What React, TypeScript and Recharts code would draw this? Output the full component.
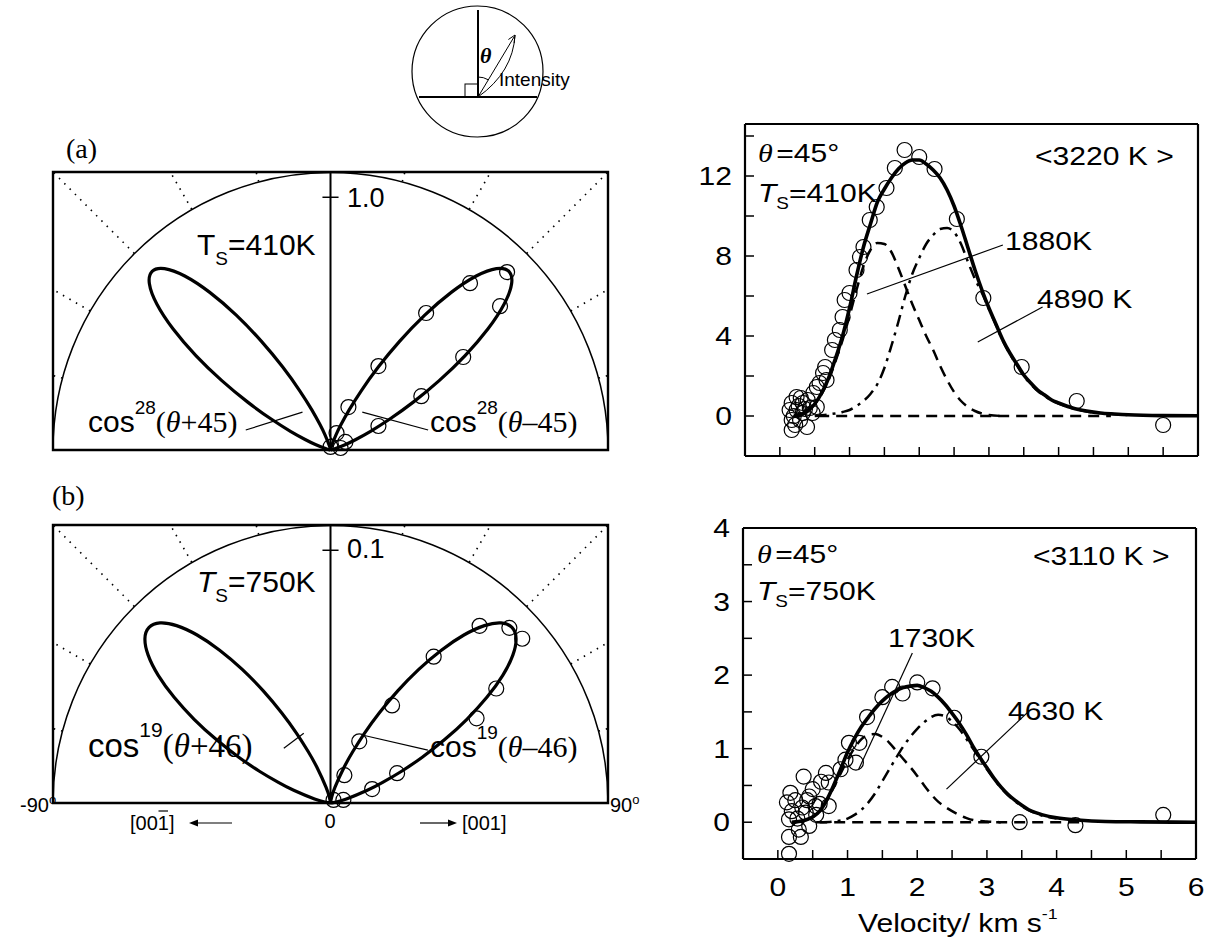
import React from "react";
import {
  ComposedChart,
  Line,
  Scatter,
  XAxis,
  YAxis,
  ReferenceLine,
  ReferenceArea,
  ReferenceDot,
} from "recharts";

const SANS = "'Liberation Sans', Arial, sans-serif";
const SERIF = "'Liberation Serif', 'Times New Roman', serif";
// lettering of the velocity plots is drawn a little wide in the original
const SX = 1.18;

type Pair = [number, number];
const pts = (a: Pair[]) => a.map(([x, y]) => ({ x, y }));

// ---------- polar panels (x = r sin(theta), y = r cos(theta)) ----------

// (a) Ts = 410 K, scale tick at 1.0
const lobeALeft: Pair[] = [
  [0, 0], [-0.0007, 0.0037], [-0.0046, 0.0172], [-0.0218, 0.0599], [-0.0417, 0.1006],
  [-0.074, 0.1588], [-0.1225, 0.2353], [-0.1894, 0.3281], [-0.2745, 0.4308], [-0.3736, 0.5336],
  [-0.4786, 0.6237], [-0.5777, 0.6885], [-0.6578, 0.7179], [-0.7071, 0.7071], [-0.7179, 0.6578],
  [-0.6885, 0.5777], [-0.6237, 0.4786], [-0.5336, 0.3736], [-0.4308, 0.2745], [-0.3281, 0.1894],
  [-0.2353, 0.1225], [-0.1588, 0.074], [-0.1006, 0.0417], [-0.0599, 0.0218], [-0.0172, 0.0046],
  [-0.0037, 0.0007], [0, 0],
];
const lobeARight: Pair[] = [
  [0, 0], [0.0007, 0.0037], [0.0046, 0.0172], [0.0218, 0.0599], [0.0417, 0.1006],
  [0.074, 0.1588], [0.1225, 0.2353], [0.1894, 0.3281], [0.2745, 0.4308], [0.3736, 0.5336],
  [0.4786, 0.6237], [0.5777, 0.6885], [0.6578, 0.7179], [0.7071, 0.7071], [0.7179, 0.6578],
  [0.6885, 0.5777], [0.6237, 0.4786], [0.5336, 0.3736], [0.4308, 0.2745], [0.3281, 0.1894],
  [0.2353, 0.1225], [0.1588, 0.074], [0.1006, 0.0417], [0.0599, 0.0218], [0.0172, 0.0046],
  [0.0037, 0.0007], [0, 0],
];
const pointsA: Pair[] = [
  [0.7, 0.704], [0.553, 0.66], [0.672, 0.569], [0.379, 0.542], [0.526, 0.368], [0.19, 0.332],
  [0.36, 0.213], [0.071, 0.17], [0.19, 0.095], [0.024, 0.067], [0.059, 0.032], [0.0, 0.012],
  [0.04, 0.008],
];

// (b) Ts = 750 K, scale tick at 0.1
const lobeBLeft: Pair[] = [
  [0, 0], [-0.00007, 0.00063], [-0.00044, 0.00224], [-0.00179, 0.00625], [-0.00553, 0.01441],
  [-0.00886, 0.02038], [-0.01344, 0.02757], [-0.01939, 0.03571], [-0.02665, 0.04436],
  [-0.03499, 0.05287], [-0.04394, 0.06048], [-0.05288, 0.06647], [-0.06102, 0.07019],
  [-0.06761, 0.07124], [-0.07193, 0.06947], [-0.07356, 0.06507], [-0.07228, 0.05853],
  [-0.06828, 0.05052], [-0.06198, 0.04181], [-0.05406, 0.03313], [-0.04526, 0.02509],
  [-0.03637, 0.01813], [-0.02802, 0.01247], [-0.02067, 0.00814], [-0.01459, 0.00502],
  [-0.00631, 0.00157], [-0.00225, 0.00036], [-0.00063, 0.00004], [0, 0],
];
const lobeBRight: Pair[] = [
  [0, 0], [0.00007, 0.00063], [0.00044, 0.00224], [0.00179, 0.00625], [0.00553, 0.01441],
  [0.00886, 0.02038], [0.01344, 0.02757], [0.01939, 0.03571], [0.02665, 0.04436],
  [0.03499, 0.05287], [0.04394, 0.06048], [0.05288, 0.06647], [0.06102, 0.07019],
  [0.06761, 0.07124], [0.07193, 0.06947], [0.07356, 0.06507], [0.07228, 0.05853],
  [0.06828, 0.05052], [0.06198, 0.04181], [0.05406, 0.03313], [0.04526, 0.02509],
  [0.03637, 0.01813], [0.02802, 0.01247], [0.02067, 0.00814], [0.01459, 0.00502],
  [0.00631, 0.00157], [0.00225, 0.00036], [0.00063, 0.00004], [0, 0],
];
const pointsB: Pair[] = [
  [0.0591, 0.0701], [0.0709, 0.0693], [0.076, 0.065], [0.0409, 0.0579], [0.0657, 0.0453],
  [0.0244, 0.0386], [0.0579, 0.0335], [0.0114, 0.0244], [0.0264, 0.0118], [0.0165, 0.0055],
  [0.0055, 0.011], [0.0012, 0.0012], [0.0051, 0.0012],
];

// ---------- velocity distributions ----------

const X_TICKS = [0, 0.5, 1, 1.5, 2, 2.5, 3, 3.5, 4, 4.5, 5, 5.5, 6];

// top: theta = 45, Ts = 410 K, <3220 K>
const topTotal: Pair[] = [
  [0.2, 0], [0.3, 0.05], [0.4, 0.25], [0.5, 0.6], [0.6, 1.15], [0.7, 1.9], [0.8, 2.9],
  [0.9, 4.0], [1.0, 5.4], [1.1, 7.0], [1.2, 8.45], [1.3, 9.6], [1.4, 10.7], [1.5, 11.35],
  [1.6, 11.9], [1.7, 12.35], [1.8, 12.65], [1.9, 12.8], [2.0, 12.8], [2.1, 12.6], [2.2, 12.3],
  [2.3, 11.9], [2.4, 11.3], [2.5, 10.5], [2.6, 9.5], [2.7, 8.4], [2.8, 7.3], [2.9, 6.3],
  [3.0, 5.4], [3.1, 4.6], [3.2, 3.8], [3.3, 3.15], [3.4, 2.6], [3.5, 2.05], [3.6, 1.65],
  [3.7, 1.3], [3.8, 1.05], [3.9, 0.8], [4.0, 0.65], [4.2, 0.4], [4.4, 0.25], [4.6, 0.15],
  [4.8, 0.1], [5.0, 0.06], [5.5, 0.02], [6.0, 0.01],
];
const topSlow: Pair[] = [
  [0.2, 0], [0.3, 0.05], [0.4, 0.25], [0.5, 0.6], [0.6, 1.1], [0.7, 1.8], [0.8, 2.75],
  [0.9, 3.8], [1.0, 5.0], [1.1, 6.3], [1.2, 7.5], [1.3, 8.3], [1.4, 8.65], [1.5, 8.6],
  [1.6, 8.2], [1.7, 7.4], [1.8, 6.5], [1.9, 5.6], [2.0, 4.8], [2.1, 4.0], [2.2, 3.3],
  [2.3, 2.5], [2.4, 1.8], [2.5, 1.2], [2.6, 0.75], [2.7, 0.45], [2.8, 0.25], [2.9, 0.12],
  [3.0, 0.05], [3.2, 0],
];
const topFast: Pair[] = [
  [0.5, 0], [0.7, 0.08], [0.9, 0.2], [1.0, 0.3], [1.1, 0.5], [1.2, 0.75], [1.3, 1.1],
  [1.4, 1.6], [1.5, 2.4], [1.6, 3.5], [1.7, 4.7], [1.8, 6.0], [1.9, 7.1], [2.0, 7.9],
  [2.1, 8.6], [2.2, 9.05], [2.3, 9.35], [2.4, 9.4], [2.5, 9.2], [2.6, 8.6], [2.7, 7.7],
  [2.8, 6.85], [2.9, 6.15], [3.0, 5.35], [3.1, 4.55], [3.2, 3.75], [3.3, 3.1], [3.4, 2.55],
  [3.5, 2.0], [3.6, 1.6], [3.7, 1.25], [3.8, 1.0], [3.9, 0.78], [4.0, 0.62], [4.2, 0.38],
  [4.4, 0.23], [4.6, 0.14], [4.8, 0.09], [5.0, 0.05],
];
const topBase: Pair[] = [[0.55, 0], [4.75, 0]];
const topPoints: Pair[] = [
  [0.14, 0.3], [0.17, 0.65], [0.17, -0.2], [0.17, -0.7], [0.2, 0.0], [0.22, -0.45], [0.24, 0.95],
  [0.24, 0.3], [0.27, 0.5], [0.29, -0.2], [0.3, 0.9], [0.33, 0.65], [0.33, 0.15], [0.36, 0.35],
  [0.39, -0.55], [0.4, 0.8], [0.43, 0.4], [0.47, 0.15], [0.48, 1.15], [0.53, 0.45], [0.53, 1.45],
  [0.57, 1.65], [0.62, 2.15], [0.65, 2.45], [0.67, 1.8], [0.75, 3.3], [0.79, 3.8], [0.86, 4.3],
  [0.9, 4.95], [0.93, 5.8], [1.0, 6.15], [1.1, 7.3], [1.15, 7.95], [1.2, 8.45], [1.29, 9.8],
  [1.39, 10.45], [1.53, 11.4], [1.65, 12.4], [1.79, 13.3], [2.0, 12.95], [2.22, 12.35],
  [2.54, 9.85], [2.92, 5.9], [3.47, 2.45], [4.26, 0.75], [5.5, -0.45],
];
const topLeaders: Pair[][] = [
  [[1.25, 6.1], [3.2, 8.55]],
  [[2.84, 3.7], [3.77, 5.45]],
];

// bottom: theta = 45, Ts = 750 K, <3110 K>
const botTotal: Pair[] = [
  [0.2, 0], [0.3, 0.01], [0.4, 0.03], [0.5, 0.07], [0.6, 0.15], [0.7, 0.3], [0.8, 0.5],
  [0.9, 0.72], [1.0, 0.95], [1.1, 1.14], [1.2, 1.3], [1.3, 1.43], [1.4, 1.55], [1.5, 1.65],
  [1.6, 1.73], [1.7, 1.79], [1.8, 1.83], [1.9, 1.85], [2.0, 1.86], [2.1, 1.83], [2.2, 1.78],
  [2.3, 1.7], [2.4, 1.6], [2.5, 1.48], [2.6, 1.35], [2.7, 1.2], [2.8, 1.03], [2.9, 0.88],
  [3.0, 0.74], [3.1, 0.6], [3.2, 0.48], [3.3, 0.38], [3.4, 0.3], [3.5, 0.23], [3.6, 0.17],
  [3.7, 0.13], [3.8, 0.1], [4.0, 0.06], [4.3, 0.03], [4.7, 0.01], [5.2, 0.005], [6.0, 0],
];
const botSlow: Pair[] = [
  [0.2, 0], [0.3, 0.01], [0.4, 0.03], [0.5, 0.07], [0.6, 0.15], [0.7, 0.29], [0.8, 0.47],
  [0.9, 0.66], [1.0, 0.85], [1.1, 1.01], [1.2, 1.13], [1.3, 1.19], [1.4, 1.2], [1.5, 1.16],
  [1.6, 1.08], [1.7, 0.97], [1.8, 0.86], [1.9, 0.75], [2.0, 0.63], [2.1, 0.5], [2.2, 0.38],
  [2.3, 0.28], [2.4, 0.21], [2.5, 0.15], [2.6, 0.1], [2.7, 0.06], [2.8, 0.03], [3.0, 0.01],
  [3.2, 0],
];
const botFast: Pair[] = [
  [0.6, 0], [0.8, 0.01], [1.0, 0.05], [1.1, 0.1], [1.2, 0.17], [1.3, 0.27], [1.4, 0.4],
  [1.5, 0.56], [1.6, 0.72], [1.7, 0.88], [1.8, 1.03], [1.9, 1.16], [2.0, 1.27], [2.1, 1.36],
  [2.2, 1.43], [2.3, 1.46], [2.4, 1.44], [2.5, 1.37], [2.6, 1.27], [2.7, 1.14], [2.8, 1.0],
  [2.9, 0.86], [3.0, 0.72], [3.1, 0.59], [3.2, 0.47], [3.3, 0.37], [3.4, 0.29], [3.5, 0.22],
  [3.7, 0.12], [4.0, 0.05],
];
const botBase: Pair[] = [[0.55, 0], [4.4, 0]];
const botPoints: Pair[] = [
  [0.16, -0.43], [0.16, -0.2], [0.16, 0.04], [0.13, 0.27], [0.18, 0.4], [0.2, 0.15], [0.25, 0.3],
  [0.28, 0.05], [0.3, -0.1], [0.33, -0.2], [0.35, 0.2], [0.37, 0.62], [0.4, 0.13], [0.42, 0.3],
  [0.45, 0.35], [0.45, -0.05], [0.5, 0.45], [0.54, 0.22], [0.55, 0.1], [0.6, 0.25], [0.62, 0.55],
  [0.69, 0.67], [0.73, 0.54], [0.73, 0.22], [0.9, 0.72], [0.97, 0.85], [1.02, 1.08], [1.12, 0.81],
  [1.17, 1.08], [1.28, 1.43], [1.5, 1.7], [1.64, 1.84], [1.79, 1.75], [2.0, 1.9], [2.22, 1.82],
  [2.53, 1.42], [2.92, 0.89], [3.47, 0.0], [4.27, -0.04], [5.53, 0.1],
];
const botLeaders: Pair[][] = [
  [[1.16, 0.72], [1.93, 2.3]],
  [[2.42, 0.45], [3.58, 1.49]],
];

// ---------- shared bits ----------

const AXIS = { stroke: "#000", strokeWidth: 2.2 };
const TICK = { stroke: "#000", strokeWidth: 1.5 };
const NoTick = () => <g />;

const Ring = (p: any) => (
  <circle cx={p.cx} cy={p.cy} r={7.5} fill="none" stroke="#000" strokeWidth={1.2} />
);

const xTick = (show: boolean) => (p: any) => {
  const v = p.payload?.value;
  if (!show || !Number.isInteger(v)) return <g />;
  return (
    <text
      transform={`translate(${p.x},${p.y}) scale(${SX},1)`}
      textAnchor="middle"
      dy="0.71em"
      fontSize={25.5}
      fontFamily={SANS}
      fill="#000"
    >
      {v}
    </text>
  );
};

const yTick = (labelled: (v: number) => boolean) => (p: any) => {
  const v = p.payload?.value;
  if (!labelled(v)) return <g />;
  return (
    <text
      transform={`translate(${p.x},${p.y}) scale(${SX},1)`}
      textAnchor="end"
      dy="0.355em"
      fontSize={25.5}
      fontFamily={SANS}
      fill="#000"
    >
      {v}
    </text>
  );
};

const SPOKES = [15, 30, 45, 60, 75];

function PolarPanel({
  rMax,
  tickAt,
  lobeLeft,
  lobeRight,
  points,
  leaders,
}: {
  rMax: number;
  tickAt: number;
  lobeLeft: Pair[];
  lobeRight: Pair[];
  points: Pair[];
  leaders: Pair[][];
}) {
  const W = 555;
  const H = 278;
  const rPx = W / 2;
  // dotted angle marks, only drawn between the rim and the frame
  const spokes: { x: number; y: number }[][] = [];
  for (const side of [-1, 1]) {
    for (const deg of SPOKES) {
      const a = (deg * Math.PI) / 180;
      const s = Math.sin(a);
      const c = Math.cos(a);
      const far = rMax * Math.min(1 / s, 1 / c);
      spokes.push([
        { x: side * rMax * s, y: rMax * c },
        { x: side * far * s, y: far * c },
      ]);
    }
  }
  const half = rMax * 0.029;
  return (
    <ComposedChart width={W + 40} height={H + 40} margin={{ top: 20, right: 20, bottom: 20, left: 20 }}>
      <XAxis type="number" dataKey="x" domain={[-rMax, rMax]} hide />
      <YAxis type="number" dataKey="y" domain={[0, rMax]} hide />
      {spokes.map((seg, i) => (
        <ReferenceLine
          key={i}
          segment={seg}
          stroke="#000"
          strokeWidth={1.6}
          strokeDasharray="1.5 6"
          ifOverflow="visible"
        />
      ))}
      <ReferenceDot
        x={0}
        y={0}
        r={1}
        ifOverflow="visible"
        shape={(p: any) => (
          <path
            d={`M${p.cx - rPx},${p.cy} A${rPx},${rPx} 0 0 1 ${p.cx + rPx},${p.cy}`}
            fill="none"
            stroke="#000"
            strokeWidth={1.5}
          />
        )}
      />
      <ReferenceArea
        x1={-rMax}
        x2={rMax}
        y1={0}
        y2={rMax}
        fill="none"
        fillOpacity={0}
        stroke="#000"
        strokeWidth={2.4}
        ifOverflow="visible"
      />
      <ReferenceLine
        segment={[{ x: 0, y: 0 }, { x: 0, y: rMax }]}
        stroke="#000"
        strokeWidth={2}
        ifOverflow="visible"
      />
      <ReferenceLine
        segment={[{ x: -half, y: tickAt }, { x: half, y: tickAt }]}
        stroke="#000"
        strokeWidth={1.5}
        ifOverflow="visible"
      />
      {leaders.map((l, i) => (
        <ReferenceLine
          key={`l${i}`}
          segment={l.map(([x, y]) => ({ x, y }))}
          stroke="#000"
          strokeWidth={1.2}
          ifOverflow="visible"
        />
      ))}
      <Scatter data={pts(points)} shape={Ring} isAnimationActive={false} />
      <Line
        data={pts(lobeLeft)}
        dataKey="y"
        type="natural"
        stroke="#000"
        strokeWidth={3.2}
        dot={false}
        isAnimationActive={false}
      />
      <Line
        data={pts(lobeRight)}
        dataKey="y"
        type="natural"
        stroke="#000"
        strokeWidth={3.2}
        dot={false}
        isAnimationActive={false}
      />
    </ComposedChart>
  );
}

function VelocityPanel({
  height,
  topPad,
  bottomH,
  yDomain,
  yTicks,
  yLabelled,
  showX,
  total,
  slow,
  fast,
  base,
  points,
  leaders,
}: {
  height: number;
  topPad: number;
  bottomH: number;
  yDomain: [number, number];
  yTicks: number[];
  yLabelled: (v: number) => boolean;
  showX: boolean;
  total: Pair[];
  slow: Pair[];
  fast: Pair[];
  base: Pair[];
  points: Pair[];
  leaders: Pair[][];
}) {
  const ids = { xAxisId: "b", yAxisId: "l" };
  // frame axes need a size of at least 1px, or Recharts skips drawing them
  return (
    <ComposedChart
      width={523}
      height={height}
      margin={{ top: topPad, right: 9, bottom: bottomH > 1 ? 0 : 9, left: 0 }}
    >
      <XAxis
        xAxisId="b"
        type="number"
        dataKey="x"
        domain={[-0.5, 6]}
        ticks={X_TICKS}
        interval={0}
        orientation="bottom"
        height={bottomH}
        tickSize={-9}
        tickMargin={28}
        tick={xTick(showX)}
        axisLine={AXIS}
        tickLine={TICK}
      />
      <XAxis
        xAxisId="t"
        type="number"
        domain={[-0.5, 6]}
        ticks={X_TICKS}
        interval={0}
        orientation="top"
        height={1}
        tickSize={-9}
        tick={NoTick}
        axisLine={AXIS}
        tickLine={TICK}
      />
      <YAxis
        yAxisId="l"
        type="number"
        dataKey="y"
        domain={yDomain}
        ticks={yTicks}
        interval={0}
        width={60}
        tickSize={-9}
        tickMargin={22}
        tick={yTick(yLabelled)}
        axisLine={AXIS}
        tickLine={TICK}
      />
      <YAxis
        yAxisId="r"
        orientation="right"
        type="number"
        domain={yDomain}
        ticks={yTicks}
        interval={0}
        width={1}
        tickSize={-9}
        tick={NoTick}
        axisLine={AXIS}
        tickLine={TICK}
      />
      {leaders.map((l, i) => (
        <ReferenceLine
          key={i}
          {...ids}
          segment={l.map(([x, y]) => ({ x, y }))}
          stroke="#000"
          strokeWidth={1.2}
          ifOverflow="visible"
        />
      ))}
      <Scatter {...ids} data={pts(points)} shape={Ring} isAnimationActive={false} />
      <Line
        {...ids}
        data={pts(base)}
        dataKey="y"
        type="linear"
        stroke="#000"
        strokeWidth={2.5}
        strokeDasharray="11 7"
        dot={false}
        isAnimationActive={false}
      />
      <Line
        {...ids}
        data={pts(slow)}
        dataKey="y"
        type="monotone"
        stroke="#000"
        strokeWidth={2.5}
        strokeDasharray="11 7"
        dot={false}
        isAnimationActive={false}
      />
      <Line
        {...ids}
        data={pts(fast)}
        dataKey="y"
        type="monotone"
        stroke="#000"
        strokeWidth={2.5}
        strokeDasharray="12 6 3 6"
        dot={false}
        isAnimationActive={false}
      />
      <Line
        {...ids}
        data={pts(total)}
        dataKey="y"
        type="monotone"
        stroke="#000"
        strokeWidth={3.6}
        dot={false}
        isAnimationActive={false}
      />
    </ComposedChart>
  );
}

const Wide = ({
  x,
  y,
  size = 25.5,
  children,
}: {
  x: number;
  y: number;
  size?: number;
  children: React.ReactNode;
}) => (
  <text transform={`translate(${x},${y}) scale(${SX},1)`} fontSize={size} fontFamily={SANS} fill="#000">
    {children}
  </text>
);

function CosLabel({
  x,
  y,
  n,
  sign,
  shift,
  size = 30,
}: {
  x: number;
  y: number;
  n: string;
  sign: string;
  shift: string;
  size?: number;
}) {
  const up = Math.round(size * 0.6);
  return (
    <text x={x} y={y} fontSize={size} fontFamily={SANS} fill="#000">
      cos
      <tspan dy={-up} fontSize={Math.round(size * 0.63)}>
        {n}
      </tspan>
      <tspan dy={up} fontFamily={SERIF}>
        (<tspan fontStyle="italic">θ</tspan>
        {sign}
        {shift})
      </tspan>
    </text>
  );
}

function Overlay() {
  return (
    <svg
      width={1215}
      height={938}
      style={{ position: "absolute", left: 0, top: 0, pointerEvents: "none" }}
      fontFamily={SANS}
    >
      {/* inset sketch of the geometry */}
      <circle cx={477.5} cy={71.5} r={65.5} fill="none" stroke="#000" strokeWidth={1.2} />
      <line x1={478} y1={10} x2={478} y2={97} stroke="#000" strokeWidth={2} />
      <line x1={419} y1={97} x2={537} y2={97} stroke="#000" strokeWidth={2} />
      <rect x={465} y={84} width={13} height={13} fill="none" stroke="#000" strokeWidth={1} />
      <line x1={478} y1={97} x2={514} y2={37} stroke="#000" strokeWidth={1} />
      <path d="M478,97 Q513,72 515,35" fill="none" stroke="#000" strokeWidth={1} />
      <path d="M508.4,39.5 L515,35 L514.2,43" fill="none" stroke="#000" strokeWidth={1} />
      <path d="M478,77 A20,20 0 0 1 488.3,79.8" fill="none" stroke="#000" strokeWidth={1} />
      <text x={480} y={63} fontFamily={SERIF} fontStyle="italic" fontWeight="bold" fontSize={22}>
        θ
      </text>
      <text x={499} y={86} fontSize={19}>
        Intensity
      </text>

      {/* polar panels */}
      <text x={66} y={158} fontFamily={SERIF} fontSize={28}>
        (a)
      </text>
      <text x={52} y={505} fontFamily={SERIF} fontSize={28}>
        (b)
      </text>
      <text x={197} y={255} fontSize={30}>
        T
        <tspan fontSize={19} dy={10}>
          S
        </tspan>
        <tspan dy={-10}>=410K</tspan>
      </text>
      <text x={197} y={592} fontSize={30}>
        <tspan fontStyle="italic">T</tspan>
        <tspan fontSize={19} dy={10}>
          S
        </tspan>
        <tspan dy={-10}>=750K</tspan>
      </text>
      <text x={347} y={207} fontSize={27}>
        1.0
      </text>
      <text x={347} y={558} fontSize={27}>
        0.1
      </text>
      <CosLabel x={88} y={432} n="28" sign="+" shift="45" />
      <CosLabel x={430} y={432} n="28" sign={"\u2013"} shift="45" />
      <CosLabel x={88} y={757} n="19" sign="+" shift="46" size={33} />
      <CosLabel x={430} y={757} n="19" sign={"\u2013"} shift="46" />

      <text x={20} y={812} fontSize={20}>
        -90
        <tspan dy={-8} fontSize={13}>
          o
        </tspan>
      </text>
      <text x={610} y={812} fontSize={20}>
        90
        <tspan dy={-8} fontSize={13}>
          o
        </tspan>
      </text>
      <text x={330} y={828} fontSize={20} textAnchor="middle">
        0
      </text>
      <text x={130} y={830} fontSize={20}>
        [001]
      </text>
      <line x1={158.5} y1={811} x2={168} y2={811} stroke="#000" strokeWidth={1.2} />
      <line x1={196} y1={823} x2={232} y2={823} stroke="#000" strokeWidth={1.2} />
      <path d="M189,823 L198,819.5 L198,826.5 Z" fill="#000" />
      <line x1={420} y1={823} x2={450} y2={823} stroke="#000" strokeWidth={1.2} />
      <path d="M457,823 L448,819.5 L448,826.5 Z" fill="#000" />
      <text x={462} y={830} fontSize={20}>
        [001]
      </text>

      {/* velocity panels */}
      <Wide x={758} y={162}>
        <tspan fontFamily={SERIF} fontStyle="italic">
          θ
        </tspan>
        <tspan dx={3}>=45°</tspan>
      </Wide>
      <Wide x={758} y={202}>
        <tspan fontStyle="italic">T</tspan>
        <tspan fontSize={16} dy={7}>
          S
        </tspan>
        <tspan dy={-7}>=410K</tspan>
      </Wide>
      <Wide x={1035} y={165}>{"<3220 K >"}</Wide>
      <Wide x={1005} y={250}>1880K</Wide>
      <Wide x={1037} y={308}>4890 K</Wide>

      <Wide x={757} y={563}>
        <tspan fontFamily={SERIF} fontStyle="italic">
          θ
        </tspan>
        <tspan dx={3}>=45°</tspan>
      </Wide>
      <Wide x={757} y={600}>
        <tspan fontStyle="italic">T</tspan>
        <tspan fontSize={16} dy={7}>
          S
        </tspan>
        <tspan dy={-7}>=750K</tspan>
      </Wide>
      <Wide x={1033} y={565}>{"<3110 K >"}</Wide>
      <Wide x={888} y={647}>1730K</Wide>
      <Wide x={1008} y={720}>4630 K</Wide>
      <Wide x={858} y={932}>
        Velocity/ km s
        <tspan dy={-13} fontSize={15}>
          -1
        </tspan>
      </Wide>
    </svg>
  );
}

export default function App() {
  return (
    <div
      style={{
        position: "absolute",
        left: 0,
        top: 0,
        width: 1215,
        height: 938,
        background: "#fff",
        fontFamily: SANS,
        overflow: "hidden",
      }}
    >
      <div style={{ position: "absolute", left: 33, top: 152 }}>
        <PolarPanel
          rMax={1.1}
          tickAt={1.0}
          lobeLeft={lobeALeft}
          lobeRight={lobeARight}
          points={pointsA}
          leaders={[
            [[-0.336, 0.079], [-0.111, 0.15]],
            [[0.126, 0.15], [0.387, 0.079]],
          ]}
        />
      </div>
      <div style={{ position: "absolute", left: 33, top: 505 }}>
        <PolarPanel
          rMax={0.11}
          tickAt={0.1}
          lobeLeft={lobeBLeft}
          lobeRight={lobeBRight}
          points={pointsB}
          leaders={[
            [[-0.0185, 0.0217], [-0.0106, 0.0276]],
            [[0.013, 0.0268], [0.0386, 0.0209]],
          ]}
        />
      </div>
      <div style={{ position: "absolute", left: 685, top: 114 }}>
        <VelocityPanel
          height={352}
          topPad={9}
          bottomH={1}
          yDomain={[-2, 14.6]}
          yTicks={[0, 2, 4, 6, 8, 10, 12, 14]}
          yLabelled={(v) => v % 4 === 0}
          showX={false}
          total={topTotal}
          slow={topSlow}
          fast={topFast}
          base={topBase}
          points={topPoints}
          leaders={topLeaders}
        />
      </div>
      <div style={{ position: "absolute", left: 683, top: 498 }}>
        <VelocityPanel
          height={411}
          topPad={29}
          bottomH={50}
          yDomain={[-0.5, 4]}
          yTicks={[-0.5, 0, 0.5, 1, 1.5, 2, 2.5, 3, 3.5, 4]}
          yLabelled={(v) => Number.isInteger(v)}
          showX={true}
          total={botTotal}
          slow={botSlow}
          fast={botFast}
          base={botBase}
          points={botPoints}
          leaders={botLeaders}
        />
      </div>
      <Overlay />
    </div>
  );
}
